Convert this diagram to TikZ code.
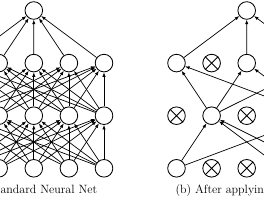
\documentclass[tikz,border=0pt]{standalone}
\usetikzlibrary{arrows.meta}
\tikzset{
  unit/.style={draw, circle, fill=white, minimum size=17.6pt, inner sep=0pt,
               line width=0.85pt},
  conn/.style={-{Latex[length=4.5pt,width=3.4pt]}, line width=0.7pt},
  capt/.style={font=\large, anchor=base, inner sep=0pt},
}
\begin{document}
\begin{tikzpicture}[x=1pt, y=-1pt]
\useasboundingbox (0,0) rectangle (264,200);
\clip (0,0) rectangle (264,200);

% (a) standard net
\node[unit] (sout) at (33.8,10.5) {};
\foreach \l/\y in {1/63.1, 2/115.7, 3/168.3}
  \foreach \i in {0,...,4}
    \node[unit] (s\l\i) at (-36.4+35.1*\i, \y) {};
\foreach \i in {0,...,4} {
  \draw[conn] (s1\i) -- (sout);
  \foreach \j in {0,...,4} {
    \draw[conn] (s2\j) -- (s1\i);
    \draw[conn] (s3\j) -- (s2\i);
  }
}

% (b) thinned net
\node[unit] (tout) at (246.7,10.5) {};
\foreach \l/\y in {1/63.1, 2/115.7, 3/168.3}
  \foreach \i in {0,...,4}
    \node[unit] (t\l\i) at (176.5+35.1*\i, \y) {};
\foreach \l/\i in {1/1, 1/3, 2/0, 2/2, 2/3, 3/1, 3/2}
  \draw[line width=0.85pt] (t\l\i.45) -- (t\l\i.225) (t\l\i.135) -- (t\l\i.315);
\foreach \a in {0,2,4}
  \draw[conn] (t1\a) -- (tout);
\foreach \a in {0,2,4}
  \foreach \b in {1,4}
    \draw[conn] (t2\b) -- (t1\a);
\foreach \a in {1,4}
  \foreach \b in {0,3,4}
    \draw[conn] (t3\b) -- (t2\a);

\node[capt] (capa) at (33.8,193.5) {(a) Standard Neural Net};
\node[capt] (capb) at (246.7,193.5) {(b) After applying dropout.};

\end{tikzpicture}
\end{document}
